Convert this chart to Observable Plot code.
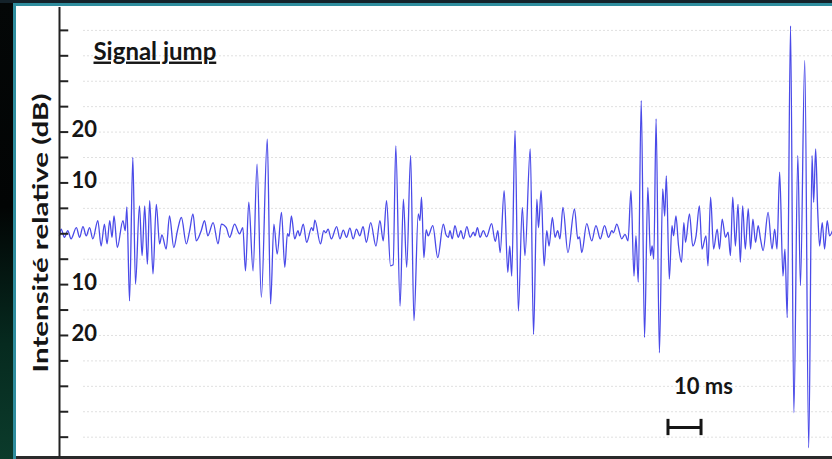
<!DOCTYPE html>
<html><head><meta charset="utf-8">
<script src="https://cdn.jsdelivr.net/npm/d3@7"></script>
<script src="https://cdn.jsdelivr.net/npm/@observablehq/plot@0.6"></script>
<style>
html,body{margin:0;padding:0;background:#000;}
#slide{position:relative;width:832px;height:459px;overflow:hidden;background:linear-gradient(to bottom,#040707 0%,#020404 45%,#062a1f 75%,#0b3b2b 100%);}
#topband{position:absolute;left:0;top:0;width:832px;height:3px;background:#14222a;}
#teal{position:absolute;left:13px;top:3px;right:0;bottom:0;background:#2f8d9e;}
#panel{position:absolute;left:16px;top:6px;right:0;bottom:2px;background:#fff;}
#bottomband{position:absolute;left:16px;right:0;bottom:0;height:3px;background:#2a2a2a;}
#chart{position:absolute;left:0;top:0;}
</style></head><body>
<div id="slide"><div id="topband"></div><div id="teal"></div><div id="panel"></div><div id="bottomband"></div><div id="chart"></div></div>
<script>
// ---- data (time in ms, relative intensity in dB) ----
const traceSegment1 = [[0,-0.4],[0.5,0.9],[1.5,-0.7],[2.5,0.6],[3.5,-1.0],[5.1,1.2],[6.1,-0.7],[7.1,1.4],[8.1,-0.4],[9.1,1.2],[10.1,-1.0],[11.6,2.6],[12.6,-2.4],[13.6,1.9],[14.4,-2.0],[15.2,2.6],[15.9,-0.7],[16.5,3.5],[17.5,-2.7],[19.2,2.6],[19.9,0.6],[20.4,5.3],[21.2,-13.2],[22.2,15.0],[23.0,-9.9],[24.2,5.5],[25.0,-4.3],[25.8,5.5],[26.6,-6.0],[27.3,6.5],[28.3,-7.9],[29.3,5.8],[30.3,-2.0],[31.0,-0.2],[32.3,-3.0],[33.3,3.5],[34.6,-2.7],[35.7,0.6],[36.9,3.2],[38.4,-2.0],[39.4,0.6],[40.4,3.9],[41.4,-1.4],[42.9,0.6],[43.9,2.6],[44.9,-0.4],[46.5,2.2],[48.0,-2.0],[49.0,1.9],[50.5,1.2],[51.5,-0.7],[53.0,1.9],[54.5,0.0],[55.5,1.2],[56.3,-7.3],[57.3,6.2],[58.6,-7.3]];
const traceSegment2 = [[59.8,13.7],[61.1,-12.5],[62.9,18.6],[63.9,-13.8],[64.9,1.9],[65.9,-4.0],[67.2,4.2],[68.2,-6.6],[69.0,0.0],[69.5,-0.5],[70.2,3.5],[71.2,-1.0],[72.2,0.6],[72.7,-0.4],[73.8,1.9],[74.8,-1.7],[76.3,1.2],[76.8,0.6],[77.3,2.7],[79.0,-2.0],[80.0,0.6],[80.6,0.2],[81.3,0.9],[82.3,-1.0],[83.9,1.4],[84.9,-1.0],[85.9,0.7],[86.9,-0.7],[87.9,1.1],[88.9,-1.0],[89.9,0.9],[90.9,-0.4],[91.9,1.4],[92.9,-1.7],[94.2,2.2],[95.8,-2.4],[97.0,2.6],[98.0,-1.4],[99.0,6.5],[100.2,-6.3],[101.0,-6.1],[101.8,17.3],[103.1,-14.2],[104.1,6.8],[105.1,-6.6],[106.3,15.4],[107.3,-17.1],[108.6,3.9],[109.1,2.6],[109.6,7.2],[110.3,-4.7],[111.0,0.8],[111.6,-0.4],[113.0,1.6],[114.5,-4.7],[116.2,1.9],[117.0,-0.2]];
const traceSegment3 = [[117.7,-0.7],[118.2,0.6],[118.9,-1.0],[119.7,1.6],[120.7,-0.7],[121.5,0.6],[122.3,-1.0],[123.3,1.4],[124.3,-0.7],[125.3,0.3],[125.8,-0.4],[126.5,1.2],[127.3,-0.7],[128.3,0.6],[129.3,-0.6],[130.8,2.0],[131.9,-1.5],[132.7,0.6],[133.4,-3.7],[134.6,8.5],[135.7,-7.6],[136.3,-2.4],[136.9,-8.3],[137.9,20.3],[138.9,-15.2],[140.1,5.2],[140.9,-4.3],[142.5,16.7],[143.5,-19.8],[144.5,6.8],[145.0,1.2],[145.8,8.5],[146.7,-6.3],[147.5,0.6],[148.2,-2.4],[149.2,3.2],[150.0,-0.7],[150.8,0.6],[151.5,-1.0],[152.4,5.2],[153.9,-3.7],[155.9,4.9],[156.9,-1.0],[157.4,-0.6],[158.1,-3.7],[159.6,2.0],[161.1,-1.4],[162.4,1.6],[163.7,-1.0],[165.0,1.6],[166.2,-0.7],[167.2,0.6],[167.7,0.2],[168.7,1.9],[170.2,-1.0],[171.2,-0.1],[172.1,-1.4],[173.0,8.5],[173.9,-8.3],[174.5,-0.4],[175.2,-9.5],[176.1,26.2]];
const traceSegment4 = [[177.1,-20.4],[178.1,9.1],[178.9,-4.3],[179.4,-2.4],[179.9,-5.0],[180.6,22.6],[181.6,-23.4],[182.6,8.8],[183.2,3.5],[183.7,11.4],[184.6,-8.9],[185.4,1.6],[185.9,-0.4],[186.6,3.5],[187.4,-2.4],[188.3,-5.6],[189.0,2.2],[189.5,-1.7],[190.7,3.9],[191.7,-2.4],[192.7,-0.4],[193.7,5.5],[194.5,-3.0],[195.7,-0.4],[196.3,-6.3],[197.1,7.2],[198.0,-3.0],[199.1,0.9],[199.8,-3.0],[200.6,2.9],[201.6,-0.7],[202.4,0.3],[203.1,-4.3],[203.8,7.2],[204.6,-2.4],[205.4,5.8],[206.1,-5.6],[206.8,5.5],[207.6,-3.0],[208.5,4.9],[209.2,-3.0],[209.9,2.9],[210.7,-1.7],[211.5,1.6],[212.2,-1.0],[213.0,-3.3],[214.5,4.2],[215.7,-3.0],[216.5,0.9],[217.2,-3.0],[218.0,12.1],[219.0,-8.3],[219.6,-3.0],[220.3,-16.5],[221.3,40.9],[222.3,-35.2],[223.5,15.4],[224.3,-10.2],[225.6,34.1],[226.8,-42.1],[227.8,15.4],[228.3,6.2],[228.9,16.7],[229.5,4.9],[230.1,-2.4],[230.9,2.2],[231.6,-3.0],[232.4,2.6],[233.1,-0.4],[234.0,0.6]];

const tickValues = [-40,-35,-30,-25,-20,-15,-10,-5,0,5,10,15,20,25,30,35,40];
const tickLabelValues = [20, 10, -10, -20];
const tickLabelTexts = ["20", "10", "10", "20"];
const titleText = "Signal jump";
const yLabelText = "Intensité relative (dB)";
const scaleBarStartMs = 184.2;
const scaleBarLengthMs = 10;
const scaleBarLevelDb = -38.1;
const scaleBarText = "10 ms";
const xDomain = [0, 234];
const yDomain = [-44, 44.5];

// ---- build ----
const trace = [...traceSegment1, ...traceSegment2, ...traceSegment3, ...traceSegment4]
  .map(([t, db]) => ({t, db}));

const ink = "#151515";
const plot = Plot.plot({
  width: 832,
  height: 459,
  marginLeft: 59,
  marginRight: 0,
  marginTop: 7,
  marginBottom: 2,
  x: {domain: xDomain, axis: null},
  y: {domain: yDomain, axis: null},
  style: {background: "transparent", fontFamily: "Lato, 'Open Sans', sans-serif", color: ink, overflow: "visible"},
  marks: [
    Plot.ruleY(tickValues, {y: d => d, stroke: "#e0e0e0", strokeWidth: 1, strokeDasharray: "2,2", insetLeft: 24}),
    Plot.line(trace, {x: "t", y: "db", stroke: "#4a4ae8", strokeWidth: 1.3, curve: "monotone-x"}),
    Plot.ruleY([yDomain[0]], {stroke: "#2a2a2a", strokeWidth: 2.5}),
    Plot.ruleX([xDomain[0]], {stroke: "#222", strokeWidth: 2}),
    Plot.ruleY(tickValues, {y: d => d, x1: xDomain[0], x2: xDomain[0] + 2.8, stroke: "#222", strokeWidth: 2}),
    Plot.text(tickLabelValues, {y: d => d, text: (d, i) => tickLabelTexts[i], frameAnchor: "left", dx: 12, dy: -2, textAnchor: "start", fontSize: 22, fontWeight: 700, fill: ink}),
    Plot.text([titleText], {text: d => d, frameAnchor: "top-left", dx: 34, dy: 35, textAnchor: "start", fontSize: 24, fontWeight: 700, fill: ink}),
    Plot.text([yLabelText], {text: d => d, frameAnchor: "left", dx: -18, dy: 140, rotate: -90, textAnchor: "start", fontSize: 21, fontWeight: 700, fill: ink}),
    Plot.ruleY([scaleBarLevelDb], {x1: scaleBarStartMs, x2: scaleBarStartMs + scaleBarLengthMs, stroke: ink, strokeWidth: 3}),
    Plot.ruleX([scaleBarStartMs, scaleBarStartMs + scaleBarLengthMs], {y1: scaleBarLevelDb - 1.6, y2: scaleBarLevelDb + 1.6, stroke: ink, strokeWidth: 3}),
    Plot.text([scaleBarText], {x: scaleBarStartMs + 1.8, y: -30.1, text: d => d, textAnchor: "start", fontSize: 22, fontWeight: 700, fill: ink})
  ]
});

plot.querySelectorAll("text").forEach(el => {
  if (el.textContent === titleText) {
    el.style.textDecoration = "underline";
  }
  if (el.textContent === yLabelText) {
    el.setAttribute("textLength", "279");
    el.setAttribute("lengthAdjust", "spacingAndGlyphs");
  }
});

document.getElementById("chart").appendChild(plot);
</script>
</body></html>
